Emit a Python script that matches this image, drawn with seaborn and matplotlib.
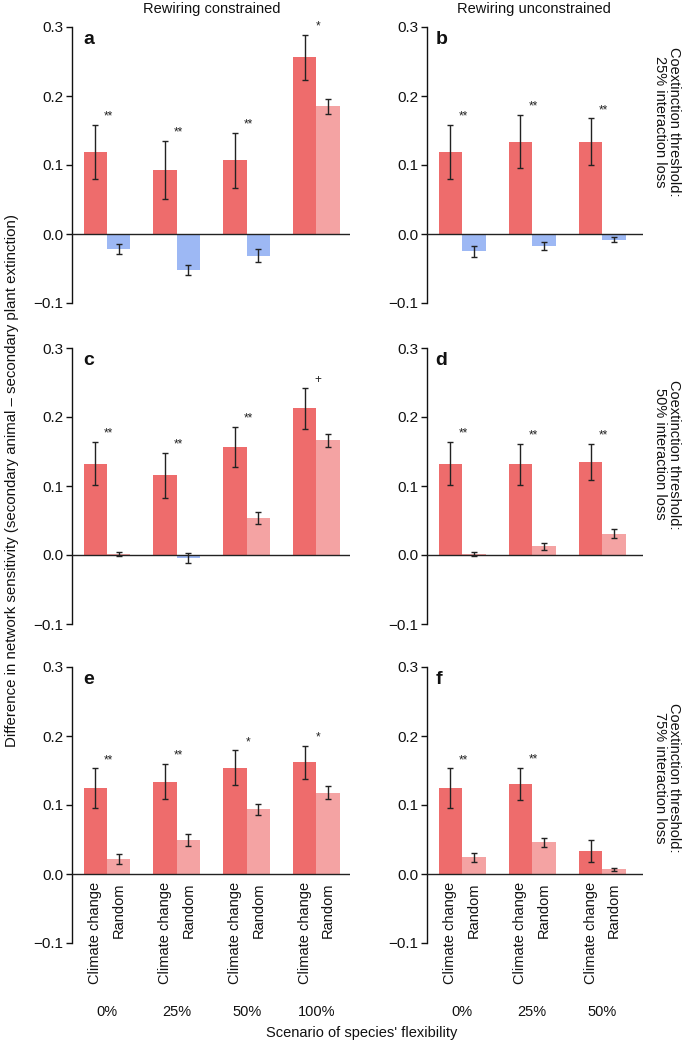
import matplotlib

matplotlib.use("Agg")
import matplotlib.pyplot as plt
import matplotlib.transforms as mtransforms
import pandas as pd
import seaborn as sns

# flexibility scenarios
levels_left = ["0%", "25%", "50%", "100%"]
levels_right = ["0%", "25%", "50%"]
scenarios = ["Climate change", "Random"]

# panel a: rewiring constrained, 25% threshold
cc_mean_a = [0.119, 0.093, 0.107, 0.256]
cc_lo_a = [0.079, 0.051, 0.066, 0.223]
cc_hi_a = [0.158, 0.135, 0.147, 0.289]
rnd_mean_a = [-0.022, -0.052, -0.032, 0.185]
rnd_lo_a = [-0.029, -0.060, -0.040, 0.174]
rnd_hi_a = [-0.014, -0.045, -0.022, 0.196]
stars_a = ["**", "**", "**", "*"]

# panel b: rewiring unconstrained, 25% threshold
cc_mean_b = [0.119, 0.134, 0.134]
cc_lo_b = [0.079, 0.096, 0.100]
cc_hi_b = [0.158, 0.173, 0.168]
rnd_mean_b = [-0.025, -0.017, -0.008]
rnd_lo_b = [-0.033, -0.023, -0.011]
rnd_hi_b = [-0.018, -0.011, -0.004]
stars_b = ["**", "**", "**"]

# panel c: rewiring constrained, 50% threshold
cc_mean_c = [0.132, 0.116, 0.157, 0.213]
cc_lo_c = [0.101, 0.082, 0.128, 0.183]
cc_hi_c = [0.164, 0.148, 0.186, 0.242]
rnd_mean_c = [0.001, -0.004, 0.054, 0.166]
rnd_lo_c = [-0.001, -0.012, 0.045, 0.156]
rnd_hi_c = [0.004, 0.003, 0.063, 0.175]
stars_c = ["**", "**", "**", "+"]

# panel d: rewiring unconstrained, 50% threshold
cc_mean_d = [0.132, 0.132, 0.135]
cc_lo_d = [0.101, 0.101, 0.109]
cc_hi_d = [0.164, 0.161, 0.161]
rnd_mean_d = [0.002, 0.013, 0.031]
rnd_lo_d = [-0.001, 0.007, 0.024]
rnd_hi_d = [0.005, 0.017, 0.038]
stars_d = ["**", "**", "**"]

# panel e: rewiring constrained, 75% threshold
cc_mean_e = [0.125, 0.134, 0.154, 0.162]
cc_lo_e = [0.096, 0.108, 0.129, 0.137]
cc_hi_e = [0.153, 0.160, 0.179, 0.186]
rnd_mean_e = [0.022, 0.050, 0.094, 0.118]
rnd_lo_e = [0.014, 0.041, 0.086, 0.108]
rnd_hi_e = [0.029, 0.058, 0.102, 0.128]
stars_e = ["**", "**", "*", "*"]

# panel f: rewiring unconstrained, 75% threshold
cc_mean_f = [0.125, 0.131, 0.033]
cc_lo_f = [0.096, 0.107, 0.017]
cc_hi_f = [0.153, 0.154, 0.049]
rnd_mean_f = [0.025, 0.046, 0.007]
rnd_lo_f = [0.018, 0.039, 0.004]
rnd_hi_f = [0.031, 0.052, 0.009]
stars_f = ["**", "**", ""]

col_titles = ["Rewiring constrained", "Rewiring unconstrained"]
row_labels = [
    "Coextinction threshold:\n25% interaction loss",
    "Coextinction threshold:\n50% interaction loss",
    "Coextinction threshold:\n75% interaction loss",
]

RED = "#EE6C6C"
LIGHT_RED = "#F4A3A3"
BLUE = "#9DB8F4"
FS = 10.5

sns.set_style("ticks")
plt.rcParams["font.family"] = ["Liberation Sans", "DejaVu Sans"]
plt.rcParams["axes.linewidth"] = 1.0
plt.rcParams["axes.edgecolor"] = "#111111"
plt.rcParams["ytick.color"] = "#111111"
plt.rcParams["text.color"] = "#111111"

fig = plt.figure(figsize=(6.85, 10.44), dpi=100)

W, H = 685.0, 1044.0
col_px = [(72, 278), (427, 216)]
row_px = [303, 624, 943]
ax_h = 276
row_label_y = [0.655, 0.615, 0.60]
col_title_x = [212, 534]


def make_df(levels, cc_m, cc_l, cc_h, r_m, r_l, r_h):
    rows = []
    for lv, m, lo, hi in zip(levels, cc_m, cc_l, cc_h):
        rows.append({"level": lv, "scenario": "Climate change", "value": m, "lo": lo, "hi": hi})
    for lv, m, lo, hi in zip(levels, r_m, r_l, r_h):
        rows.append({"level": lv, "scenario": "Random", "value": m, "lo": lo, "hi": hi})
    return pd.DataFrame(rows)


panels = [
    ("a", 0, 0, levels_left, cc_mean_a, cc_lo_a, cc_hi_a, rnd_mean_a, rnd_lo_a, rnd_hi_a, stars_a),
    ("b", 0, 1, levels_right, cc_mean_b, cc_lo_b, cc_hi_b, rnd_mean_b, rnd_lo_b, rnd_hi_b, stars_b),
    ("c", 1, 0, levels_left, cc_mean_c, cc_lo_c, cc_hi_c, rnd_mean_c, rnd_lo_c, rnd_hi_c, stars_c),
    ("d", 1, 1, levels_right, cc_mean_d, cc_lo_d, cc_hi_d, rnd_mean_d, rnd_lo_d, rnd_hi_d, stars_d),
    ("e", 2, 0, levels_left, cc_mean_e, cc_lo_e, cc_hi_e, rnd_mean_e, rnd_lo_e, rnd_hi_e, stars_e),
    ("f", 2, 1, levels_right, cc_mean_f, cc_lo_f, cc_hi_f, rnd_mean_f, rnd_lo_f, rnd_hi_f, stars_f),
]

for letter, r, c, levels, cm, cl, ch, rm, rl, rh, stars in panels:
    left, width = col_px[c]
    bottom = row_px[r]
    ax = fig.add_axes([left / W, 1 - bottom / H, width / W, ax_h / H])
    df = make_df(levels, cm, cl, ch, rm, rl, rh)

    sns.barplot(
        data=df, x="level", y="value", hue="scenario", hue_order=scenarios,
        order=levels, palette=[RED, LIGHT_RED], width=0.67, errorbar=None,
        saturation=1, legend=False, ax=ax,
    )

    # patches come out hue by hue, in level order
    bars = list(ax.patches)
    n = len(levels)
    for i, p in enumerate(bars):
        p.set_linewidth(0)
        if i >= n and p.get_height() < 0:
            p.set_facecolor(BLUE)

    for i, p in enumerate(bars):
        row = df.iloc[i]
        x = p.get_x() + p.get_width() / 2
        ax.errorbar(
            x, row["value"], yerr=[[row["value"] - row["lo"]], [row["hi"] - row["value"]]],
            fmt="none", ecolor="#222222", elinewidth=1.0, capsize=2.2, capthick=1.0, zorder=5,
        )

    for k, s in enumerate(stars):
        if s:
            ax.text(k + 0.02, ch[k] + 0.003, s, ha="center", va="bottom", fontsize=8.5,
                    color="#222222")

    ax.axhline(0, color="#222222", lw=1.0, zorder=4)
    ax.set_ylim(-0.1, 0.3)
    if c == 0:
        ax.set_xlim(-0.5, 3.48)
    else:
        ax.set_xlim(-0.5, 2.58)
    ax.set_yticks([-0.1, 0.0, 0.1, 0.2, 0.3])
    ax.set_yticklabels(["\u22120.1", "0.0", "0.1", "0.2", "0.3"], fontsize=11)
    ax.tick_params(axis="y", length=4, width=1, direction="out", pad=2)
    ax.set_xticks([])
    ax.set_xlabel("")
    ax.set_ylabel("")
    sns.despine(ax=ax, bottom=True)
    ax.spines["left"].set_bounds(-0.1, 0.3)

    ax.text(0.04, 0.985, letter, transform=ax.transAxes, ha="left", va="top",
            fontsize=14, fontweight="bold")

    if r == 0:
        fig.text(col_title_x[c] / W, 1 - 9 / H, col_titles[c], ha="center",
                 va="center", fontsize=FS)
    if c == 1:
        ax.text(1.11, row_label_y[r], row_labels[r], transform=ax.transAxes, ha="center",
                va="center", rotation=-90, fontsize=FS, linespacing=1.0)

    if r == 2:
        trans = mtransforms.blended_transform_factory(ax.transData, ax.transAxes)
        for i, p in enumerate(bars):
            x = p.get_x() + p.get_width() / 2
            lab = scenarios[0] if i < n else scenarios[1]
            ax.text(x, -0.012, lab, rotation=90, ha="center", va="top", fontsize=FS)
        for k, lv in enumerate(levels):
            ax.text(k, -0.25, lv, transform=trans, ha="center", va="center", fontsize=FS)

fig.text(0.528, 1 - 1033 / H, "Scenario of species' flexibility", ha="center",
         va="center", fontsize=FS)
fig.text(0.0175, 0.54,
         "Difference in network sensitivity (secondary animal \u2013 secondary plant extinction)",
         ha="center", va="center", rotation=90, fontsize=10.8)

fig.savefig("out.png", dpi=100)
